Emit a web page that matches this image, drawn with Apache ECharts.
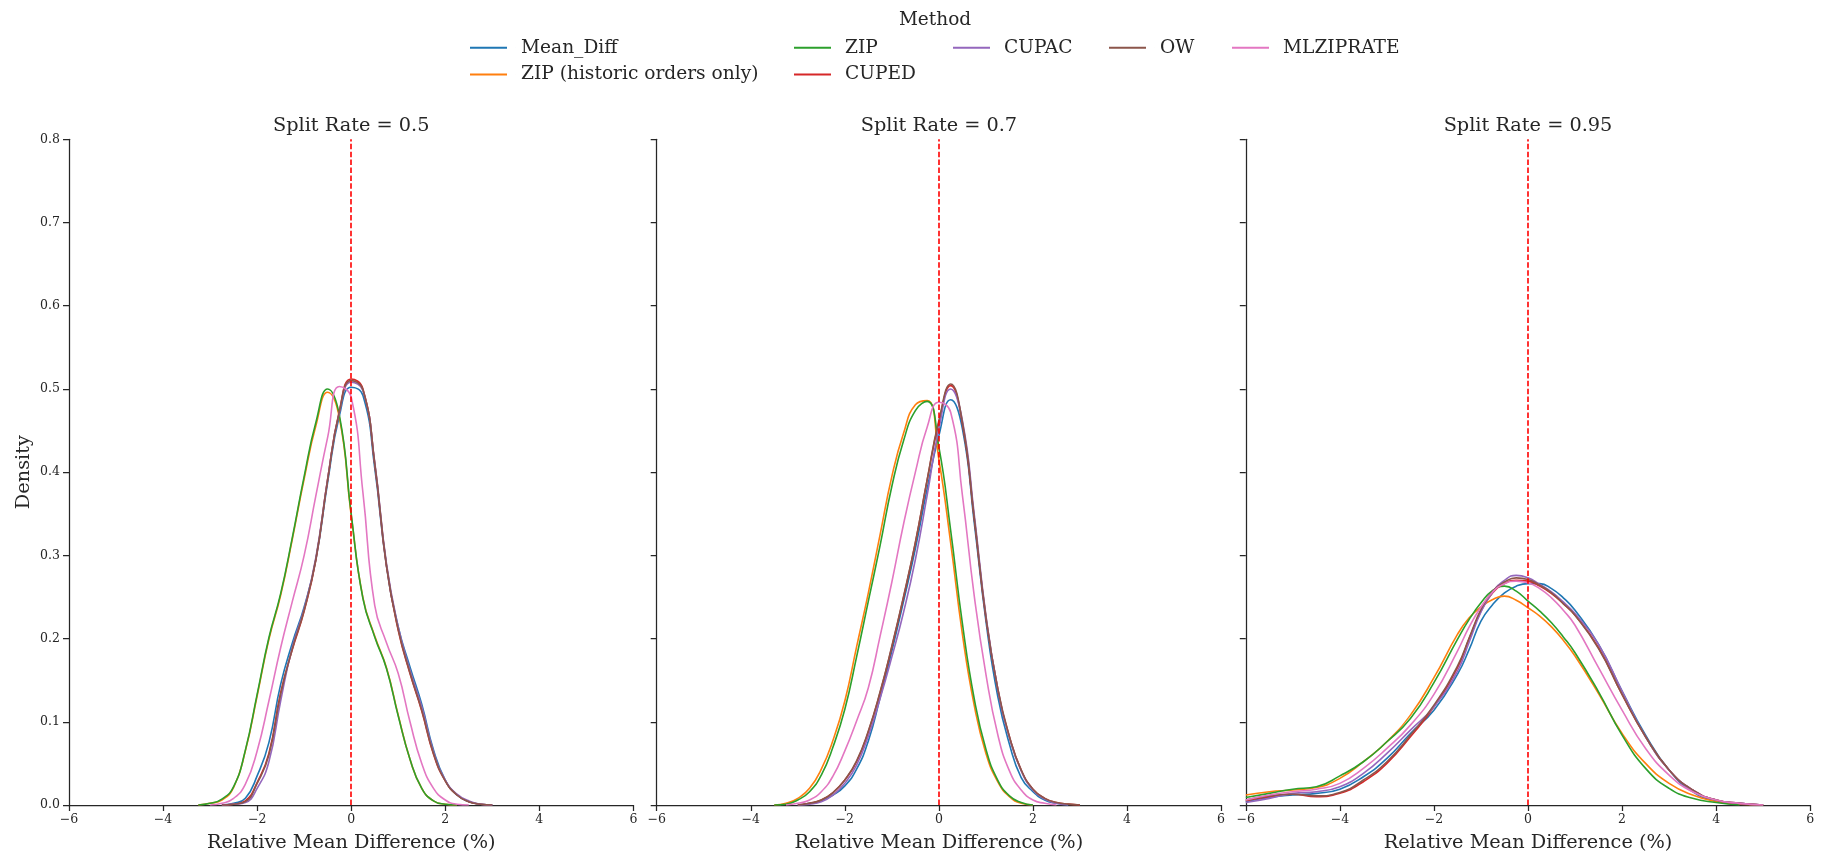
<!DOCTYPE html>
<html>
<head>
<meta charset="utf-8">
<script src="https://cdn.jsdelivr.net/npm/echarts@6/dist/echarts.min.js"></script>
<style>
html,body{margin:0;padding:0;background:#fff;}
#chart{width:1829px;height:857px;}
</style>
</head>
<body>
<div id="chart"></div>
<script>
// ---------------- DATA ----------------
const methods = ['Mean_Diff', 'ZIP (historic orders only)', 'ZIP', 'CUPED', 'CUPAC', 'OW', 'MLZIPRATE'];
const panelTitles = ['Split Rate = 0.5', 'Split Rate = 0.7', 'Split Rate = 0.95'];
const xTicks = [-6, -4, -2, 0, 2, 4, 6];
const yTicks = [0.0, 0.1, 0.2, 0.3, 0.4, 0.5, 0.6, 0.7, 0.8];

// x grid for Split Rate 0.5 and 0.7 panels
const xGridNarrow = [-3.5,-3.25,-3.0,-2.75,-2.5,-2.25,-2.0,-1.75,-1.5,-1.25,-1.0,-0.75,-0.5,-0.25,0,0.25,0.5,0.75,1.0,1.25,1.5,1.75,2.0,2.25,2.5,2.75,3.0];
// x grid for Split Rate 0.95 panel
const xGridWide = [-6,-5.5,-5,-4.5,-4,-3.5,-3,-2.5,-2,-1.5,-1.25,-1,-0.75,-0.5,-0.25,0,0.25,0.5,0.75,1,1.5,2,2.5,3,3.5,4,4.5,5];

// Split Rate = 0.5 densities (null = outside drawn range)
const meanDiff05 = [null,null,null,0.000,0.002,0.008,0.035,0.075,0.145,0.195,0.238,0.295,0.388,0.468,0.502,0.492,0.405,0.287,0.214,0.166,0.121,0.066,0.030,0.012,0.004,0.001,0.000];
const zipHist05  = [null,0.000,0.002,0.006,0.021,0.065,0.131,0.199,0.252,0.320,0.392,0.456,0.496,0.465,0.348,0.249,0.203,0.165,0.108,0.055,0.020,0.005,0.001,0.000,null,null,null];
const zip05      = [null,0.000,0.002,0.007,0.022,0.066,0.133,0.201,0.254,0.322,0.395,0.460,0.500,0.468,0.350,0.248,0.202,0.164,0.107,0.055,0.020,0.005,0.001,0.000,null,null,null];
const cuped05    = [null,null,null,0.000,0.001,0.005,0.027,0.062,0.135,0.187,0.233,0.295,0.392,0.474,0.512,0.500,0.410,0.287,0.210,0.158,0.113,0.061,0.029,0.012,0.004,0.001,0.000];
const cupac05    = [null,null,null,0.000,0.001,0.003,0.020,0.052,0.125,0.190,0.236,0.298,0.392,0.472,0.508,0.498,0.412,0.290,0.214,0.162,0.118,0.064,0.030,0.013,0.005,0.001,0.000];
const ow05       = [null,null,null,0.000,0.001,0.004,0.026,0.060,0.133,0.188,0.234,0.296,0.391,0.473,0.510,0.499,0.411,0.288,0.211,0.159,0.114,0.062,0.029,0.012,0.004,0.001,0.000];
const mlzip05    = [null,null,0.000,0.002,0.008,0.025,0.065,0.125,0.189,0.245,0.300,0.372,0.442,0.503,0.490,0.375,0.240,0.195,0.158,0.100,0.050,0.020,0.006,0.001,0.000,null,null];

// Split Rate = 0.7 densities
const meanDiff07 = [null,null,0.000,0.002,0.005,0.012,0.023,0.043,0.077,0.129,0.185,0.245,0.308,0.380,0.444,0.487,0.452,0.340,0.221,0.131,0.073,0.033,0.016,0.006,0.002,0.000,null];
const zipHist07  = [0.000,0.002,0.008,0.020,0.043,0.078,0.125,0.190,0.255,0.325,0.395,0.447,0.481,0.486,0.415,0.315,0.205,0.120,0.062,0.028,0.010,0.002,0.000,null,null,null,null];
const zip07      = [0.000,0.001,0.006,0.016,0.036,0.070,0.115,0.178,0.245,0.312,0.383,0.438,0.474,0.485,0.430,0.330,0.218,0.128,0.067,0.030,0.011,0.003,0.000,null,null,null,null];
const cuped07    = [null,null,0.000,0.002,0.006,0.015,0.030,0.052,0.088,0.135,0.190,0.250,0.315,0.390,0.460,0.504,0.458,0.345,0.225,0.140,0.082,0.042,0.019,0.008,0.003,0.001,0.000];
const cupac07    = [null,null,0.000,0.001,0.004,0.012,0.026,0.048,0.083,0.128,0.178,0.232,0.295,0.372,0.452,0.500,0.462,0.350,0.228,0.140,0.081,0.041,0.018,0.007,0.002,0.000,null];
const ow07       = [null,null,0.000,0.002,0.006,0.015,0.030,0.053,0.089,0.136,0.191,0.251,0.316,0.391,0.462,0.506,0.460,0.346,0.226,0.140,0.082,0.042,0.019,0.008,0.003,0.001,0.000];
const mlzip07    = [null,0.000,0.002,0.006,0.016,0.035,0.065,0.101,0.141,0.203,0.268,0.338,0.400,0.454,0.484,0.472,0.372,0.252,0.157,0.085,0.041,0.018,0.006,0.002,0.000,null,null];

// Split Rate = 0.95 densities
const meanDiff095 = [0.004,0.009,0.012,0.014,0.019,0.034,0.056,0.086,0.114,0.157,0.187,0.221,0.241,0.255,0.263,0.266,0.266,0.260,0.249,0.234,0.193,0.137,0.084,0.042,0.016,0.005,0.002,0.000];
const zipHist095  = [0.012,0.016,0.018,0.021,0.032,0.052,0.076,0.108,0.153,0.205,0.225,0.238,0.247,0.251,0.246,0.237,0.227,0.214,0.198,0.179,0.134,0.086,0.050,0.026,0.012,0.004,0.001,0.000];
const zip095      = [0.009,0.014,0.019,0.022,0.035,0.052,0.076,0.104,0.147,0.199,0.223,0.243,0.258,0.263,0.257,0.245,0.233,0.219,0.202,0.183,0.136,0.084,0.044,0.020,0.008,0.003,0.000,null];
const cuped095    = [0.005,0.010,0.013,0.010,0.014,0.028,0.050,0.082,0.118,0.165,0.200,0.233,0.255,0.266,0.270,0.269,0.263,0.254,0.242,0.228,0.189,0.133,0.082,0.042,0.018,0.006,0.002,0.000];
const cupac095    = [0.003,0.008,0.014,0.016,0.022,0.038,0.062,0.090,0.118,0.161,0.196,0.232,0.256,0.270,0.276,0.273,0.265,0.256,0.244,0.230,0.193,0.137,0.082,0.042,0.018,0.006,0.002,0.000];
const ow095       = [0.006,0.011,0.013,0.011,0.015,0.030,0.052,0.084,0.120,0.167,0.201,0.235,0.257,0.268,0.273,0.271,0.264,0.255,0.242,0.228,0.188,0.133,0.082,0.042,0.018,0.006,0.002,0.000];
const mlzip095    = [0.006,0.012,0.016,0.019,0.026,0.044,0.068,0.096,0.133,0.185,0.214,0.238,0.256,0.266,0.269,0.267,0.260,0.249,0.234,0.216,0.165,0.114,0.068,0.036,0.016,0.006,0.002,0.000];

// ---------------- STYLE ----------------
const colors = ['#1f77b4', '#ff7f0e', '#2ca02c', '#d62728', '#9467bd', '#8c564b', '#e377c2'];
const panels = [
  { x: xGridNarrow, ys: [meanDiff05, zipHist05, zip05, cuped05, cupac05, ow05, mlzip05] },
  { x: xGridNarrow, ys: [meanDiff07, zipHist07, zip07, cuped07, cupac07, ow07, mlzip07] },
  { x: xGridWide,   ys: [meanDiff095, zipHist095, zip095, cuped095, cupac095, ow095, mlzip095] }
];
const FONT = 'DejaVu Serif';
const TXT = '#262626';
const gridLefts = [69, 656.7, 1245.8];
const gridW = 564.4, gridTop = 139.3, gridH = 673.5;

const chart = echarts.init(document.getElementById('chart'), null, { renderer: 'canvas' });

const grids = [], xAxes = [], yAxes = [], series = [], graphics = [];
panels.forEach((p, pi) => {
  grids.push({ left: gridLefts[pi], top: gridTop, width: gridW, height: gridH, containLabel: false });
  xAxes.push({
    type: 'value', gridIndex: pi, min: xTicks[0], max: xTicks[xTicks.length - 1], interval: 2,
    axisLine: { show: true, onZero: false, lineStyle: { color: TXT, width: 1.25 } },
    axisTick: { show: true, length: 6, lineStyle: { color: TXT, width: 1.25 } },
    axisLabel: { fontFamily: FONT, fontSize: 12.5, color: TXT, margin: 8,
      formatter: v => (v < 0 ? '\u2212' + Math.abs(v) : String(v)) },
    splitLine: { show: false },
    name: 'Relative Mean Difference (%)', nameLocation: 'middle', nameGap: 28,
    nameTextStyle: { fontFamily: FONT, fontSize: 19.3, color: TXT }
  });
  yAxes.push({
    type: 'value', gridIndex: pi, min: yTicks[0], max: yTicks[yTicks.length - 1], interval: 0.1,
    axisLine: { show: true, onZero: false, lineStyle: { color: TXT, width: 1.25 } },
    axisTick: { show: true, length: 6, lineStyle: { color: TXT, width: 1.25 } },
    axisLabel: { show: pi === 0, fontFamily: FONT, fontSize: 12.5, color: TXT, margin: 9,
      formatter: v => v.toFixed(1) },
    splitLine: { show: false },
    name: pi === 0 ? 'Density' : '', nameLocation: 'middle', nameGap: 36, nameRotate: 90,
    nameTextStyle: { fontFamily: FONT, fontSize: 19.3, color: TXT }
  });
  p.ys.forEach((vals, mi) => {
    const s = {
      type: 'line', name: methods[mi], xAxisIndex: pi, yAxisIndex: pi,
      data: p.x.map((x, i) => [x, vals[i] === null ? '-' : vals[i]]),
      showSymbol: false, symbol: 'none', smooth: 0.5,
      connectNulls: false, silent: true,
      lineStyle: { color: colors[mi], width: 1.6 }, itemStyle: { color: colors[mi] },
      z: 2 + mi
    };
    if (mi === p.ys.length - 1) {
      s.markLine = {
        silent: true, symbol: 'none', label: { show: false },
        lineStyle: { color: '#ff0000', type: [5.5, 2.4], width: 1.6 },
        data: [{ xAxis: 0 }], z: 20
      };
    }
    series.push(s);
  });
  graphics.push({
    type: 'text', x: gridLefts[pi] + gridW / 2, y: 126,
    style: { text: panelTitles[pi], font: '19.3px "' + FONT + '"', fill: TXT, align: 'center', verticalAlign: 'middle' }
  });
});
graphics.push({
  type: 'text', x: 935, y: 20,
  style: { text: 'Method', font: '18.5px "' + FONT + '"', fill: TXT, align: 'center', verticalAlign: 'middle' }
});

const legendCommon = {
  orient: 'vertical', top: 37.7, itemWidth: 46, itemHeight: 2, itemGap: 6.8,
  icon: 'path://M0,0h37v2h-37z M45.99,0h0.01v2h-0.01z',
  textStyle: { fontFamily: FONT, fontSize: 18.6, color: TXT, lineHeight: 20 },
  selectedMode: false, padding: 0
};
const legendCols = [
  { left: 470, data: [methods[0], methods[1]] },
  { left: 794, data: [methods[2], methods[3]] },
  { left: 953, data: [methods[4]] },
  { left: 1109, data: [methods[5]] },
  { left: 1232, data: [methods[6]] }
];

chart.setOption({
  backgroundColor: '#ffffff',
  animation: false,
  grid: grids,
  xAxis: xAxes,
  yAxis: yAxes,
  legend: legendCols.map(c => Object.assign({}, legendCommon, c)),
  graphic: graphics,
  series: series
});
</script>
</body>
</html>
